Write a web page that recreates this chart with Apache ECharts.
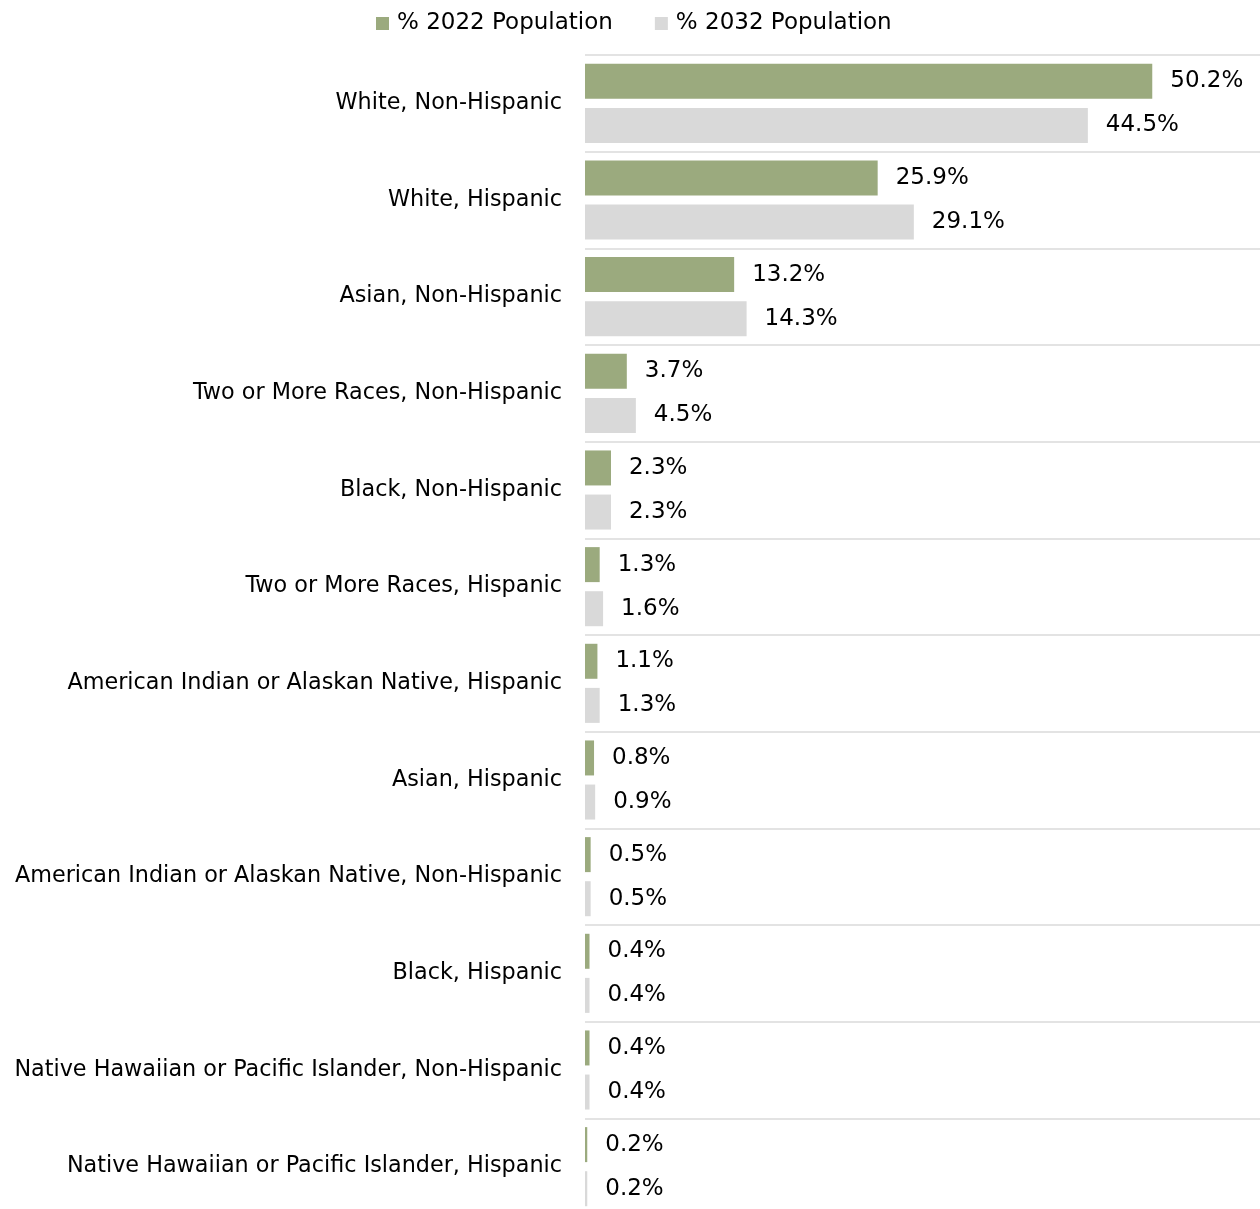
<!DOCTYPE html>
<html>
<head>
<meta charset="utf-8">
<script src="https://cdn.jsdelivr.net/npm/echarts@6/dist/echarts.min.js"></script>
<style>
  html, body { margin: 0; padding: 0; background: #fff; }
  #main { width: 1260px; height: 1209px; }
</style>
</head>
<body>
<div id="main"></div>
<script>
// 分类
const categories = [
  "White, Non-Hispanic",
  "White, Hispanic",
  "Asian, Non-Hispanic",
  "Two or More Races, Non-Hispanic",
  "Black, Non-Hispanic",
  "Two or More Races, Hispanic",
  "American Indian or Alaskan Native, Hispanic",
  "Asian, Hispanic",
  "American Indian or Alaskan Native, Non-Hispanic",
  "Black, Hispanic",
  "Native Hawaiian or Pacific Islander, Non-Hispanic",
  "Native Hawaiian or Pacific Islander, Hispanic",
];

// 2022 占比
const pop2022 = [50.2, 25.9, 13.2, 3.7, 2.3, 1.3, 1.1, 0.8, 0.5, 0.4, 0.4, 0.2];
// 2032 占比
const pop2032 = [44.5, 29.1, 14.3, 4.5, 2.3, 1.6, 1.3, 0.9, 0.5, 0.4, 0.4, 0.2];

const fontFamily = "DejaVu Sans";

var myChart = echarts.init(document.getElementById("main"));

const labelStyle = {
  show: true,
  position: "right",
  distance: 18,
  color: "#000",
  fontSize: 23,
  fontFamily: fontFamily,
  formatter: (p) => p.value.toFixed(1) + "%",
};

var option = {
  animation: false,
  legend: {
    top: 7,
    left: 371,
    itemWidth: 13,
    itemHeight: 13,
    itemGap: 42,
    icon: "rect",
    textStyle: {
      fontSize: 23,
      fontFamily: fontFamily,
      color: "#000",
      padding: [0, 0, 0, 3],
    },
    data: ["% 2022 Population", "% 2032 Population"],
  },
  grid: {
    left: 585,
    top: 55,
    width: 678,
    height: 1160,
    outerBoundsMode: "none",
    containLabel: false,
  },
  xAxis: {
    type: "value",
    min: 0,
    max: 60,
    show: false,
  },
  yAxis: {
    type: "category",
    inverse: true,
    data: categories,
    axisLine: { show: false },
    axisTick: { show: false },
    axisLabel: {
      margin: 23,
      fontSize: 22.3,
      fontFamily: fontFamily,
      color: "#000",
    },
    splitLine: {
      show: true,
      lineStyle: { color: "#e3e3e3", width: 2 },
    },
  },
  series: [
    {
      name: "% 2022 Population",
      type: "bar",
      data: pop2022,
      barWidth: 35,
      barGap: "26%",
      itemStyle: { color: "#9baa7e" },
      label: labelStyle,
    },
    {
      name: "% 2032 Population",
      type: "bar",
      data: pop2032,
      barWidth: 35,
      itemStyle: { color: "#d9d9d9" },
      label: labelStyle,
    },
  ],
};

myChart.setOption(option);
</script>
</body>
</html>
